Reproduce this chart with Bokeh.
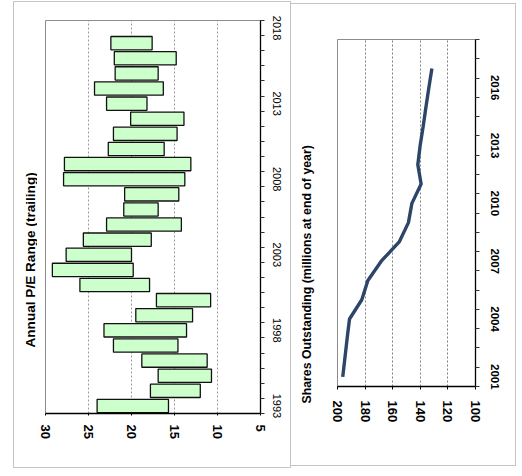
from bokeh.plotting import figure
from bokeh.models import Range1d, FixedTicker
from bokeh.core.properties import value
from bokeh.layouts import row
from bokeh.embed import file_html
from bokeh.resources import INLINE

# ---- data: annual P/E range (trailing) ----
pe_years = list(range(1993, 2018))
pe_high = [24.0, 17.8, 16.9, 18.8, 22.1, 23.2, 19.5, 17.1, 26.0, 29.2, 27.6, 25.6, 22.9,
           20.9, 20.8, 27.9, 27.8, 22.7, 22.1, 20.1, 22.9, 24.3, 21.9, 22.0, 22.4]
pe_low = [15.7, 12.0, 10.7, 11.2, 14.6, 13.6, 12.9, 10.8, 17.9, 19.8, 20.0, 17.7, 14.2,
          16.9, 14.5, 13.8, 13.1, 16.2, 14.7, 13.9, 18.2, 16.3, 16.9, 14.8, 17.6]
pe_value_ticks = [30, 25, 20, 15, 10, 5]
pe_year_ticks = [1993, 1998, 2003, 2008, 2013, 2018]
pe_title = "Annual P/E Range (trailing)"

# ---- data: shares outstanding (millions at end of year) ----
sh_years = list(range(2001, 2018))
shares = [196.2, 194.6, 193.0, 191.3, 182.4, 178.0, 168.3, 155.3, 148.6, 146.1,
          139.4, 141.8, 140.1, 137.9, 135.9, 133.8, 131.6]
sh_value_ticks = [200, 180, 160, 140, 120, 100]
sh_year_ticks = [2001, 2004, 2007, 2010, 2013, 2016]
sh_title = "Shares Outstanding (millions at end of year)"

FONT = "Liberation Sans"
BC = "1px solid #c4c4c4"


def title_strip(width, height, text, x, y, size, margin, styles):
    # narrow pixel-scaled strip holding a vertical panel title
    t = figure(width=width, height=height, x_range=Range1d(0, width), y_range=Range1d(0, height),
               x_axis_location=None, y_axis_location=None, output_backend="svg",
               toolbar_location=None, min_border=0, frame_align=False, margin=margin,
               styles=styles)
    t.grid.grid_line_color = None
    t.outline_line_color = None
    t.text(x=[x], y=[y], text=[text], angle=90, angle_units="deg", text_align="left",
           text_baseline="middle", text_font=value(FONT), text_font_size=size,
           text_font_style="bold", text_color="black")
    return t


# ---------------- left panel ----------------
t1 = title_strip(24, 467, pe_title, 15.8, 122, "13.6px", (1, 0, 0, 13),
                 {"border-left": BC, "border-top": BC, "border-bottom": BC})

p1 = figure(width=254, height=467, x_range=Range1d(30, 5), y_range=Range1d(1992.5, 2018.5),
            y_axis_location="right", output_backend="svg", toolbar_location=None,
            min_border_left=8, min_border_right=31, min_border_top=18, min_border_bottom=56,
            frame_align=False, margin=(1, 0, 0, 0),
            styles={"border-right": BC, "border-top": BC, "border-bottom": BC})
p1.hbar(y=pe_years, left=pe_low, right=pe_high, height=0.88,
        fill_color="#ccffcc", line_color="#111111", line_width=1.3)

p1.outline_line_color = "#8c8c8c"
p1.xgrid.ticker = FixedTicker(ticks=pe_value_ticks)
p1.xgrid.grid_line_color = "#9a9a9a"
p1.xgrid.grid_line_dash = "2 2"
p1.ygrid.grid_line_color = None

xa = p1.xaxis[0]
xa.ticker = FixedTicker(ticks=pe_value_ticks)
xa.major_label_orientation = "vertical"
xa.major_label_text_font = FONT
xa.major_label_text_font_size = "13px"
xa.major_label_text_font_style = "bold"
xa.major_label_text_color = "black"
xa.axis_line_color = "black"
xa.axis_line_width = 1.3
xa.major_tick_out = 2
xa.major_tick_in = 0
xa.major_label_standoff = 9
xa.minor_tick_line_color = None

ya = p1.yaxis[0]
ya.ticker = FixedTicker(ticks=pe_year_ticks, minor_ticks=[1992.5 + i for i in range(27)])
ya.major_label_orientation = "vertical"
ya.major_label_text_font = FONT
ya.major_label_text_font_size = "11px"
ya.major_label_text_color = "black"
ya.axis_line_color = "black"
ya.axis_line_width = 1.3
ya.major_tick_line_color = None
ya.major_tick_out = 0
ya.major_tick_in = 0
ya.minor_tick_out = 4
ya.minor_tick_in = 0
ya.minor_tick_line_color = "#333333"
ya.major_label_standoff = 8

# ---------------- right panel ----------------
t2 = title_strip(30, 463, sh_title, 15, 64, "12.3px", (3, 0, 0, 0),
                 {"border-top": BC, "border-bottom": BC})

p2 = figure(width=195, height=463, x_range=Range1d(200, 100), y_range=Range1d(2000.5, 2018.5),
            y_axis_location="right", output_backend="svg", toolbar_location=None,
            min_border_left=16, min_border_right=41, min_border_top=35, min_border_bottom=81,
            frame_align=False, margin=(3, 0, 0, 0),
            styles={"border-top": BC, "border-right": BC, "border-bottom": BC})
p2.line(x=shares, y=sh_years, line_color="#2c4569", line_width=3.4)

p2.outline_line_color = "#8c8c8c"
p2.xgrid.ticker = FixedTicker(ticks=sh_value_ticks)
p2.xgrid.grid_line_color = "#808080"
p2.xgrid.grid_line_dash = "2 2"
p2.ygrid.grid_line_color = None

xb = p2.xaxis[0]
xb.ticker = FixedTicker(ticks=sh_value_ticks)
xb.major_label_orientation = "vertical"
xb.major_label_text_font = FONT
xb.major_label_text_font_size = "13px"
xb.major_label_text_font_style = "bold"
xb.major_label_text_color = "black"
xb.axis_line_color = "black"
xb.axis_line_width = 1.3
xb.major_tick_out = 3
xb.major_tick_in = 0
xb.major_label_standoff = 11
xb.minor_tick_line_color = None

yb = p2.yaxis[0]
yb.ticker = FixedTicker(ticks=sh_year_ticks, minor_ticks=[2000.5 + i for i in range(19)])
yb.major_label_orientation = "vertical"
yb.major_label_text_font = FONT
yb.major_label_text_font_size = "11.5px"
yb.major_label_text_font_style = "bold"
yb.major_label_text_color = "black"
yb.axis_line_color = "black"
yb.axis_line_width = 1.3
yb.major_tick_line_color = None
yb.major_tick_out = 0
yb.major_tick_in = 0
yb.minor_tick_out = 4
yb.minor_tick_in = 0
yb.minor_tick_line_color = "#333333"
yb.major_label_standoff = 11

layout = row(t1, p1, t2, p2)
open("out.html", "w").write(file_html(layout, INLINE))
